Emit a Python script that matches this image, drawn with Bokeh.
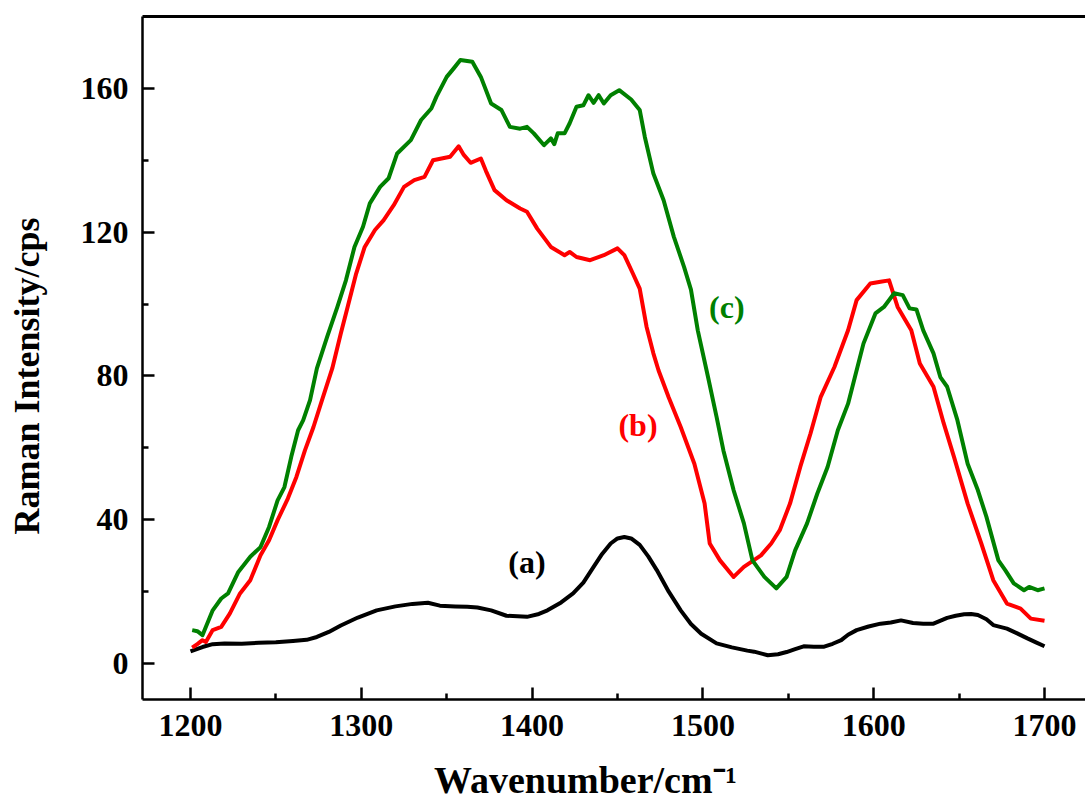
from bokeh.plotting import figure
from bokeh.models import Range1d, LinearAxis, FixedTicker, Label
from bokeh.embed import file_html
from bokeh.resources import INLINE

# ---------------- data ----------------
x_a = [1200, 1207, 1213, 1220, 1230, 1240, 1250, 1260, 1268, 1274, 1281, 1288, 1298,
       1309, 1320, 1330, 1339, 1346, 1355, 1362, 1368, 1376, 1385, 1397, 1404, 1409,
       1417, 1424, 1430, 1436, 1441, 1446, 1450, 1454, 1458, 1463, 1468, 1473, 1480,
       1487, 1493, 1499, 1508, 1517, 1526, 1530, 1538, 1544, 1549, 1554, 1559, 1565,
       1571, 1576, 1581, 1585, 1590, 1597, 1604, 1610, 1616, 1623, 1629, 1635, 1643,
       1648, 1653, 1657, 1661, 1666, 1670, 1678, 1684, 1690, 1695, 1700]
y_a = [3.4, 4.6, 5.4, 5.6, 5.5, 5.8, 5.9, 6.3, 6.6, 7.4, 8.8, 10.6, 12.8,
       14.8, 15.9, 16.6, 16.9, 16.1, 15.9, 15.8, 15.6, 14.8, 13.3, 13.0, 13.8, 14.8,
       17.0, 19.5, 22.5, 26.9, 30.5, 33.4, 34.8, 35.2, 34.8, 33.0, 29.8, 26.0, 20.0,
       14.8, 11.0, 8.3, 5.6, 4.5, 3.6, 3.3, 2.3, 2.6, 3.2, 4.0, 4.8, 4.7,
       4.7, 5.5, 6.5, 8.0, 9.3, 10.3, 11.1, 11.4, 12.0, 11.3, 11.1, 11.1, 12.7,
       13.3, 13.7, 13.8, 13.5, 12.3, 10.7, 9.7, 8.4, 7.0, 5.9, 4.8]

x_b = [1201, 1204, 1207, 1209, 1213, 1218, 1223, 1229, 1235, 1241, 1246, 1251, 1257,
       1262, 1267, 1272, 1277, 1283, 1288, 1292, 1297, 1302, 1308, 1313, 1319, 1325,
       1331, 1337, 1342, 1347, 1352, 1357, 1360, 1364, 1370, 1373, 1378, 1385, 1393,
       1397, 1403, 1411, 1419, 1422, 1426, 1434, 1442, 1450, 1454, 1459, 1463, 1467,
       1471, 1474, 1480, 1487, 1495, 1501, 1504, 1510, 1518, 1524, 1534, 1540, 1545,
       1551, 1557, 1563, 1569, 1577, 1585, 1590, 1598, 1604, 1609, 1614, 1622, 1627,
       1635, 1641, 1647, 1655, 1663, 1670, 1678, 1686, 1692, 1700]
y_b = [4.4, 5.4, 6.5, 6.0, 9.3, 10.2, 13.9, 19.5, 23.2, 30.1, 34.3, 39.9, 45.9,
       51.9, 59.3, 65.8, 73.3, 82.1, 91.8, 99.2, 108.5, 115.9, 120.6, 123.3, 127.5, 132.6,
       134.5, 135.4, 140.0, 140.5, 141.0, 143.9, 141.5, 139.3, 140.5, 137.0, 131.7, 128.9, 126.6,
       125.7, 121.0, 115.9, 113.6, 114.5, 113.1, 112.2, 113.6, 115.5, 113.6, 108.5, 104.3, 93.7,
       86.3, 81.6, 74.0, 65.8, 55.6, 44.5, 33.4, 28.7, 24.1, 26.9, 30.1, 33.4, 37.1,
       44.5, 54.7, 64.0, 74.2, 82.5, 92.7, 101.1, 105.7, 106.2, 106.6, 99.2, 92.7, 83.5,
       77.0, 66.8, 57.5, 44.5, 33.4, 23.2, 16.7, 15.3, 12.5, 11.9]

x_c = [1201, 1204, 1207, 1213, 1218, 1222, 1228, 1235, 1241, 1246, 1251, 1255, 1259,
       1263, 1266, 1270, 1274, 1280, 1286, 1291, 1296, 1301, 1305, 1311, 1316, 1321,
       1329, 1335, 1341, 1344, 1350, 1354, 1358, 1365, 1370, 1376, 1382, 1387, 1393,
       1397, 1401, 1407, 1411, 1413, 1415, 1419, 1422, 1426, 1430, 1433, 1436, 1439,
       1442, 1446, 1451, 1458, 1463, 1466, 1471, 1477, 1483, 1489, 1493, 1497, 1503,
       1508, 1512, 1518, 1524, 1529, 1536, 1543, 1549, 1554, 1561, 1567, 1573, 1579,
       1585, 1589, 1594, 1601, 1606, 1612, 1617, 1621, 1625, 1629, 1635, 1639, 1643,
       1649, 1655, 1661, 1666, 1673, 1677, 1682, 1688, 1691, 1696, 1700]
y_c = [9.3, 9.0, 7.9, 14.8, 18.1, 19.5, 25.5, 29.7, 32.4, 38.0, 45.4, 49.1, 57.5,
       64.9, 67.7, 73.3, 82.1, 90.9, 99.2, 106.6, 115.9, 121.5, 128.0, 132.6, 135.0, 141.9,
       145.6, 151.2, 154.4, 157.7, 163.2, 165.5, 167.9, 167.4, 163.2, 155.8, 154.0, 149.3, 148.8,
       149.3, 147.5, 144.2, 146.1, 144.5, 147.5, 147.5, 150.3, 154.9, 155.3, 158.1, 156.0, 158.1,
       155.8, 158.1, 159.5, 156.9, 154.0, 146.5, 136.3, 128.9, 118.7, 110.3, 104.0, 92.7, 79.7,
       68.6, 59.3, 48.2, 39.0, 28.7, 24.1, 20.9, 24.1, 31.5, 39.0, 47.3, 54.7, 64.9,
       72.3, 79.7, 89.0, 97.4, 99.2, 103.0, 102.5, 98.8, 98.5, 92.7, 86.3, 79.7, 77.0,
       67.7, 55.6, 48.2, 40.8, 28.7, 26.0, 22.3, 20.4, 21.3, 20.4, 20.9]

x_major = [1200, 1300, 1400, 1500, 1600, 1700]
x_minor = [1250, 1350, 1450, 1550, 1650]
y_major = [0, 40, 80, 120, 160]
y_minor = [20, 60, 100, 140]

curve_labels = ["(a)", "(b)", "(c)"]
curve_label_x = [1397, 1462, 1514]
curve_label_y = [28.3, 66.3, 99.2]
curve_colors = ["black", "#ff0000", "#008000"]

x_title = "Wavenumber/cm\u207b\u00b9"
y_title = "Raman Intensity/cps"

FONT = "Liberation Serif"
NBSP = "\u00a0"

# ---------------- figure ----------------
p = figure(width=1085, height=803,
           x_range=Range1d(1171.9, 1724), y_range=Range1d(-10, 180),
           output_backend="svg", toolbar_location=None,
           min_border_left=142, min_border_right=0,
           min_border_top=16, min_border_bottom=104)
p.outline_line_color = None
p.grid.visible = False
p.background_fill_color = "white"
p.border_fill_color = "white"

for xs, ys, col in [(x_a, y_a, curve_colors[0]), (x_b, y_b, curve_colors[1]), (x_c, y_c, curve_colors[2])]:
    p.line(xs, ys, line_color=col, line_width=4, line_join="round")

# axes styling
for ax in [p.xaxis[0], p.yaxis[0]]:
    ax.axis_line_width = 2.5
    ax.major_tick_in = 12
    ax.major_tick_out = 0
    ax.minor_tick_in = 6
    ax.minor_tick_out = 0
    ax.major_tick_line_width = 2.5
    ax.minor_tick_line_width = 2.5
    ax.major_label_text_font = FONT
    ax.major_label_text_font_style = "bold"
    ax.major_label_text_font_size = "32px"
    ax.major_label_text_color = "black"
    ax.axis_label_text_font = FONT
    ax.axis_label_text_font_style = "bold"
    ax.axis_label_text_color = "black"

p.xaxis[0].ticker = FixedTicker(ticks=x_major, minor_ticks=x_minor)
p.yaxis[0].ticker = FixedTicker(ticks=y_major, minor_ticks=y_minor)
p.xaxis[0].major_label_standoff = 15
p.yaxis[0].major_label_standoff = 14

# axis titles; trailing no-break spaces nudge them off-centre like the reference
p.xaxis[0].axis_label = x_title + NBSP * 6
p.xaxis[0].axis_label_text_font_size = "38px"
p.xaxis[0].axis_label_standoff = 20
p.yaxis[0].axis_label = y_title + NBSP * 4
p.yaxis[0].axis_label_text_font_size = "36px"
p.yaxis[0].axis_label_standoff = 31

top_axis = LinearAxis(ticker=FixedTicker(ticks=[]), major_label_text_font_size="0px",
                      major_tick_in=0, major_tick_out=0, minor_tick_in=0, minor_tick_out=0,
                      axis_line_width=3, major_label_standoff=0)
p.add_layout(top_axis, "above")

# curve labels
for t, lx, ly, c in zip(curve_labels, curve_label_x, curve_label_y, curve_colors):
    p.add_layout(Label(x=lx, y=ly, text=t, text_color=c, text_font=FONT,
                       text_font_style="bold", text_font_size="32px",
                       text_align="center", text_baseline="middle"))

open("out.html", "w").write(file_html(p, INLINE))
